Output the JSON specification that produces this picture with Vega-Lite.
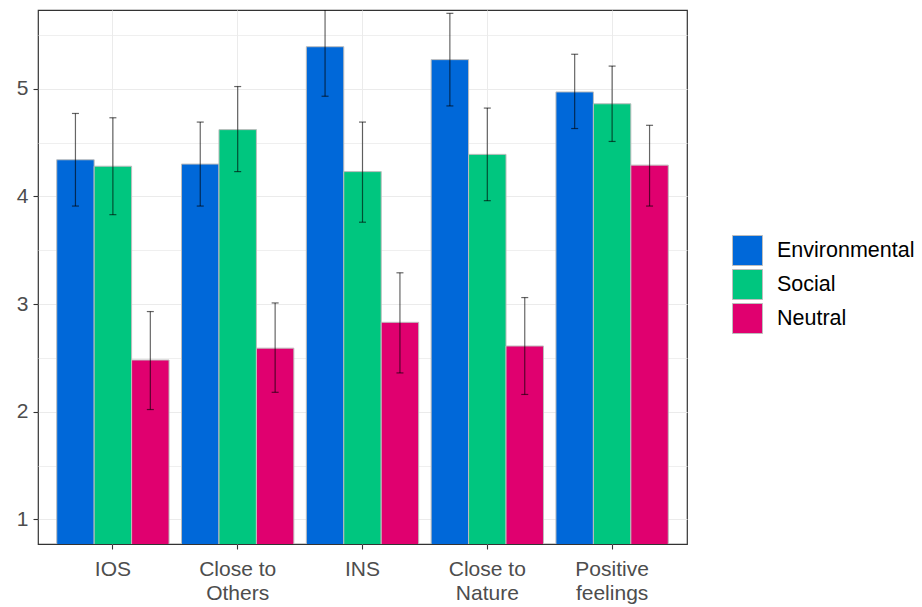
{
  "$schema": "https://vega.github.io/schema/vega-lite/v6.json",
  "autosize": {"type": "none"},
  "width": 649,
  "height": 534,
  "padding": {"left": 38, "top": 10, "right": 235, "bottom": 63},
  "background": "white",
  "config": {
    "font": "Liberation Sans",
    "view": {"stroke": "#333333", "strokeWidth": 1.2},
    "axis": {"domain": false, "title": null, "gridColor": "#ebebeb", "gridWidth": 1, "tickColor": "#333333", "tickWidth": 1.1, "labelColor": "#4d4d4d", "labelFont": "Liberation Sans", "labelFontSize": 21}
  },
  "data": {
    "values": [
      {"measure": "IOS", "condition": "Environmental", "mean": 4.34, "lo": 3.91, "hi": 4.77},
      {"measure": "IOS", "condition": "Social", "mean": 4.28, "lo": 3.83, "hi": 4.73},
      {"measure": "IOS", "condition": "Neutral", "mean": 2.48, "lo": 2.02, "hi": 2.93},
      {"measure": "Close to\nOthers", "condition": "Environmental", "mean": 4.30, "lo": 3.91, "hi": 4.69},
      {"measure": "Close to\nOthers", "condition": "Social", "mean": 4.62, "lo": 4.23, "hi": 5.02},
      {"measure": "Close to\nOthers", "condition": "Neutral", "mean": 2.59, "lo": 2.18, "hi": 3.01},
      {"measure": "INS", "condition": "Environmental", "mean": 5.39, "lo": 4.93, "hi": 5.84},
      {"measure": "INS", "condition": "Social", "mean": 4.23, "lo": 3.76, "hi": 4.69},
      {"measure": "INS", "condition": "Neutral", "mean": 2.83, "lo": 2.36, "hi": 3.29},
      {"measure": "Close to\nNature", "condition": "Environmental", "mean": 5.27, "lo": 4.84, "hi": 5.70},
      {"measure": "Close to\nNature", "condition": "Social", "mean": 4.39, "lo": 3.96, "hi": 4.82},
      {"measure": "Close to\nNature", "condition": "Neutral", "mean": 2.61, "lo": 2.16, "hi": 3.06},
      {"measure": "Positive\nfeelings", "condition": "Environmental", "mean": 4.97, "lo": 4.63, "hi": 5.32},
      {"measure": "Positive\nfeelings", "condition": "Social", "mean": 4.86, "lo": 4.51, "hi": 5.21},
      {"measure": "Positive\nfeelings", "condition": "Neutral", "mean": 4.29, "lo": 3.91, "hi": 4.66}
    ]
  },
  "encoding": {
    "x": {
      "field": "measure",
      "type": "nominal",
      "sort": null,
      "scale": {"paddingInner": 0.1, "paddingOuter": 0.15},
      "axis": {"labelAngle": 0, "labelExpr": "split(datum.label, '\\n')", "labelLineHeight": 24, "labelPadding": 9, "tickSize": 5, "grid": true, "bandPosition": 0.5, "labelBaseline": "top"}
    },
    "xOffset": {"field": "condition", "type": "nominal", "sort": ["Environmental", "Social", "Neutral"], "scale": {"paddingInner": 0, "paddingOuter": 0}}
  },
  "layer": [
    {
      "mark": {"type": "bar", "clip": true, "stroke": "#bdbdbd", "strokeWidth": 1},
      "encoding": {
        "y": {
          "field": "mean",
          "type": "quantitative",
          "scale": {"domain": [0.771, 5.731], "nice": false, "zero": false},
          "axis": {"values": [1, 2, 3, 4, 5], "tickSize": 5, "labelPadding": 5}
        },
        "color": {
          "field": "condition",
          "type": "nominal",
          "sort": ["Environmental", "Social", "Neutral"],
          "scale": {"domain": ["Environmental", "Social", "Neutral"], "range": ["#0068d9", "#00c67f", "#e0006f"]},
          "legend": {
            "orient": "none", "legendX": 694, "legendY": 225, "title": null, "padding": 0,
            "symbolType": "square", "symbolSize": 900, "symbolStrokeColor": "#bdbdbd", "symbolStrokeWidth": 1, "symbolOpacity": 1,
            "labelFont": "Liberation Sans", "labelFontSize": 21.5, "labelColor": "#000000", "labelOffset": 14, "rowPadding": -1
          }
        }
      }
    },
    {
      "mark": {"type": "rule", "clip": true, "color": "#000000", "opacity": 0.6, "strokeWidth": 1.2},
      "encoding": {
        "y": {
          "field": "lo",
          "type": "quantitative",
          "axis": {"orient": "right", "values": [1.5, 2.5, 3.5, 4.5, 5.5], "grid": true, "labels": false, "ticks": false, "domain": false, "gridWidth": 0.8}
        },
        "y2": {"field": "hi"}
      }
    },
    {
      "mark": {"type": "tick", "clip": true, "color": "#000000", "opacity": 0.6, "size": 7, "thickness": 1.2},
      "encoding": {"y": {"field": "lo", "type": "quantitative", "axis": null}}
    },
    {
      "mark": {"type": "tick", "clip": true, "color": "#000000", "opacity": 0.6, "size": 7, "thickness": 1.2},
      "encoding": {"y": {"field": "hi", "type": "quantitative", "axis": null}}
    }
  ],
  "resolve": {"axis": {"y": "independent"}}
}
